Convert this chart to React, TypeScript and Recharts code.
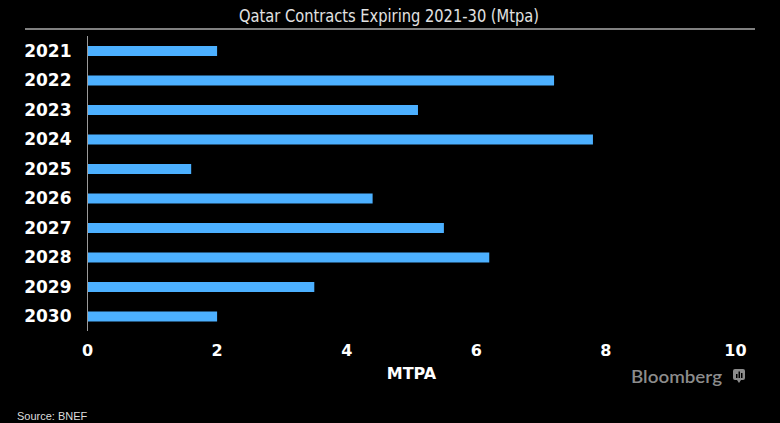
import React from 'react';
import { BarChart, Bar, XAxis, YAxis } from 'recharts';

const years = ['2021', '2022', '2023', '2024', '2025', '2026', '2027', '2028', '2029', '2030'];
const mtpa = [2.0, 7.2, 5.1, 7.8, 1.6, 4.4, 5.5, 6.2, 3.5, 2.0];
const xTicks = [0, 2, 4, 6, 8, 10];

const data = years.map((year, i) => ({ year, value: mtpa[i] }));

const BAR_COLOR = '#4cb0ff';

export default function App() {
  return (
    <div style={{ position: 'absolute', left: 0, top: 0, width: 780, height: 423, background: '#000', overflow: 'hidden' }}>
      <BarChart
        width={780}
        height={423}
        layout="vertical"
        data={data}
        margin={{ top: 36, right: 44.5, bottom: 62, left: 0 }}
      >
        <XAxis
          type="number"
          domain={[0, 10]}
          ticks={xTicks}
          axisLine={false}
          tickLine={false}
          tickSize={0}
          tickMargin={14}
          height={30}
          interval={0}
          tick={{ fill: '#ffffff', fontSize: 16, fontWeight: 'bold', fontFamily: 'DejaVu Sans' }}
        />
        <YAxis
          type="category"
          dataKey="year"
          width={87.5}
          axisLine={{ stroke: '#9a9a9a', strokeWidth: 1 }}
          tickLine={false}
          tickSize={0}
          tickMargin={16}
          interval={0}
          tick={{ fill: '#ffffff', fontSize: 17, fontWeight: 'bold', fontFamily: 'DejaVu Sans' }}
        />
        <Bar dataKey="value" fill={BAR_COLOR} barSize={10} isAnimationActive={false} />
      </BarChart>
      <svg
        width={780}
        height={423}
        style={{ position: 'absolute', left: 0, top: 0, pointerEvents: 'none' }}
      >
        <text
          x={389}
          y={22}
          textAnchor="middle"
          fontFamily="'Liberation Sans Narrow', 'DejaVu Sans Condensed', 'Liberation Sans', sans-serif"
          fontSize={17}
          fill="#e2e2e2"
          textLength={300}
          lengthAdjust="spacingAndGlyphs"
        >
          Qatar Contracts Expiring 2021-30 (Mtpa)
        </text>
        <line x1={25} x2={755} y1={29} y2={29} stroke="#ffffff" strokeWidth={1.2} />
        <text
          x={411.5}
          y={379}
          textAnchor="middle"
          fontFamily="DejaVu Sans"
          fontWeight="bold"
          fontSize={16}
          fill="#ffffff"
        >
          MTPA
        </text>
        <text x={17} y={420} fontFamily="'Liberation Sans', Arial, sans-serif" fontSize={11} fill="#dddddd">
          Source: BNEF
        </text>
        <text
          x={631}
          y={383}
          fontFamily="Lato, 'Open Sans', sans-serif"
          fontWeight={600}
          fontSize={18}
          fill="#8c8c8c"
          textLength={91}
          lengthAdjust="spacingAndGlyphs"
        >
          Bloomberg
        </text>
        <rect x={733} y={369} width={12} height={11} rx={2} fill="#8c8c8c" />
        <polygon points="737,380 741,380 739,383" fill="#8c8c8c" />
        <rect x={736} y={374} width={1.5} height={4} fill="#000" />
        <rect x={738.5} y={371.5} width={1.5} height={6.5} fill="#000" />
        <rect x={741} y={373} width={1.5} height={5} fill="#000" />
      </svg>
    </div>
  );
}
